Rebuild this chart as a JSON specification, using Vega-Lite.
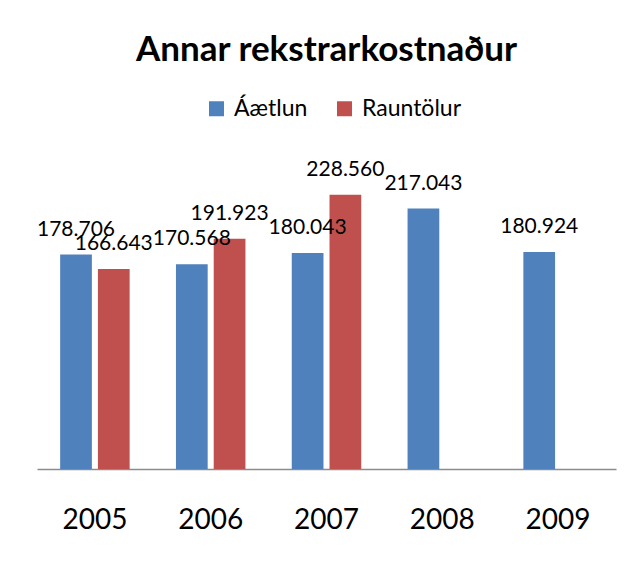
{
  "$schema": "https://vega.github.io/schema/vega-lite/v6.json",
  "autosize": "none",
  "width": 579,
  "height": 300,
  "padding": {"left": 37, "top": 169, "right": 21, "bottom": 93},
  "background": "white",
  "title": {
    "text": "Annar rekstrarkostnaður",
    "font": "Lato",
    "fontSize": 35,
    "fontWeight": "bold",
    "color": "black",
    "anchor": "middle",
    "frame": "group",
    "baseline": "alphabetic",
    "offset": 1
  },
  "config": {
    "view": {"stroke": null},
    "font": "Lato"
  },
  "data": {
    "values": [
      {"year": "2005", "series": "Áætlun", "value": 178.706},
      {"year": "2005", "series": "Rauntölur", "value": 166.643},
      {"year": "2006", "series": "Áætlun", "value": 170.568},
      {"year": "2006", "series": "Rauntölur", "value": 191.923},
      {"year": "2007", "series": "Áætlun", "value": 180.043},
      {"year": "2007", "series": "Rauntölur", "value": 228.560},
      {"year": "2008", "series": "Áætlun", "value": 217.043},
      {"year": "2009", "series": "Áætlun", "value": 180.924}
    ]
  },
  "encoding": {
    "x": {
      "field": "year",
      "type": "nominal",
      "scale": {"paddingInner": 0.4, "paddingOuter": 0.2},
      "axis": {
        "title": null,
        "labelAngle": 0,
        "labelFont": "Lato",
        "labelFontSize": 28,
        "labelColor": "black",
        "labelPadding": 37,
        "ticks": false,
        "domainColor": "#8c8c8c",
        "domainWidth": 1.5,
        "grid": false
      }
    },
    "xOffset": {
      "field": "series",
      "type": "nominal",
      "scale": {"domain": ["Áætlun", "Rauntölur"], "paddingInner": 0.16, "paddingOuter": 0}
    },
    "y": {
      "field": "value",
      "type": "quantitative",
      "scale": {"domain": [0, 250], "nice": false},
      "axis": null
    }
  },
  "layer": [
    {
      "mark": {"type": "bar"},
      "encoding": {
        "color": {
          "field": "series",
          "type": "nominal",
          "scale": {"domain": ["Áætlun", "Rauntölur"], "range": ["#4F81BD", "#C0504D"]},
          "legend": {
            "title": null,
            "orient": "none",
            "direction": "horizontal",
            "legendX": 168,
            "legendY": -72,
            "symbolType": "square",
            "symbolSize": 225,
            "symbolStrokeWidth": 0,
            "labelFont": "Lato",
            "labelFontSize": 23,
            "labelColor": "black",
            "labelOffset": 6,
            "columnPadding": 25
          }
        }
      }
    },
    {
      "mark": {"type": "text", "baseline": "alphabetic", "dy": -19, "font": "Lato", "fontSize": 21, "color": "black"},
      "encoding": {
        "text": {"field": "value", "type": "quantitative", "format": ".3f"}
      }
    }
  ]
}
